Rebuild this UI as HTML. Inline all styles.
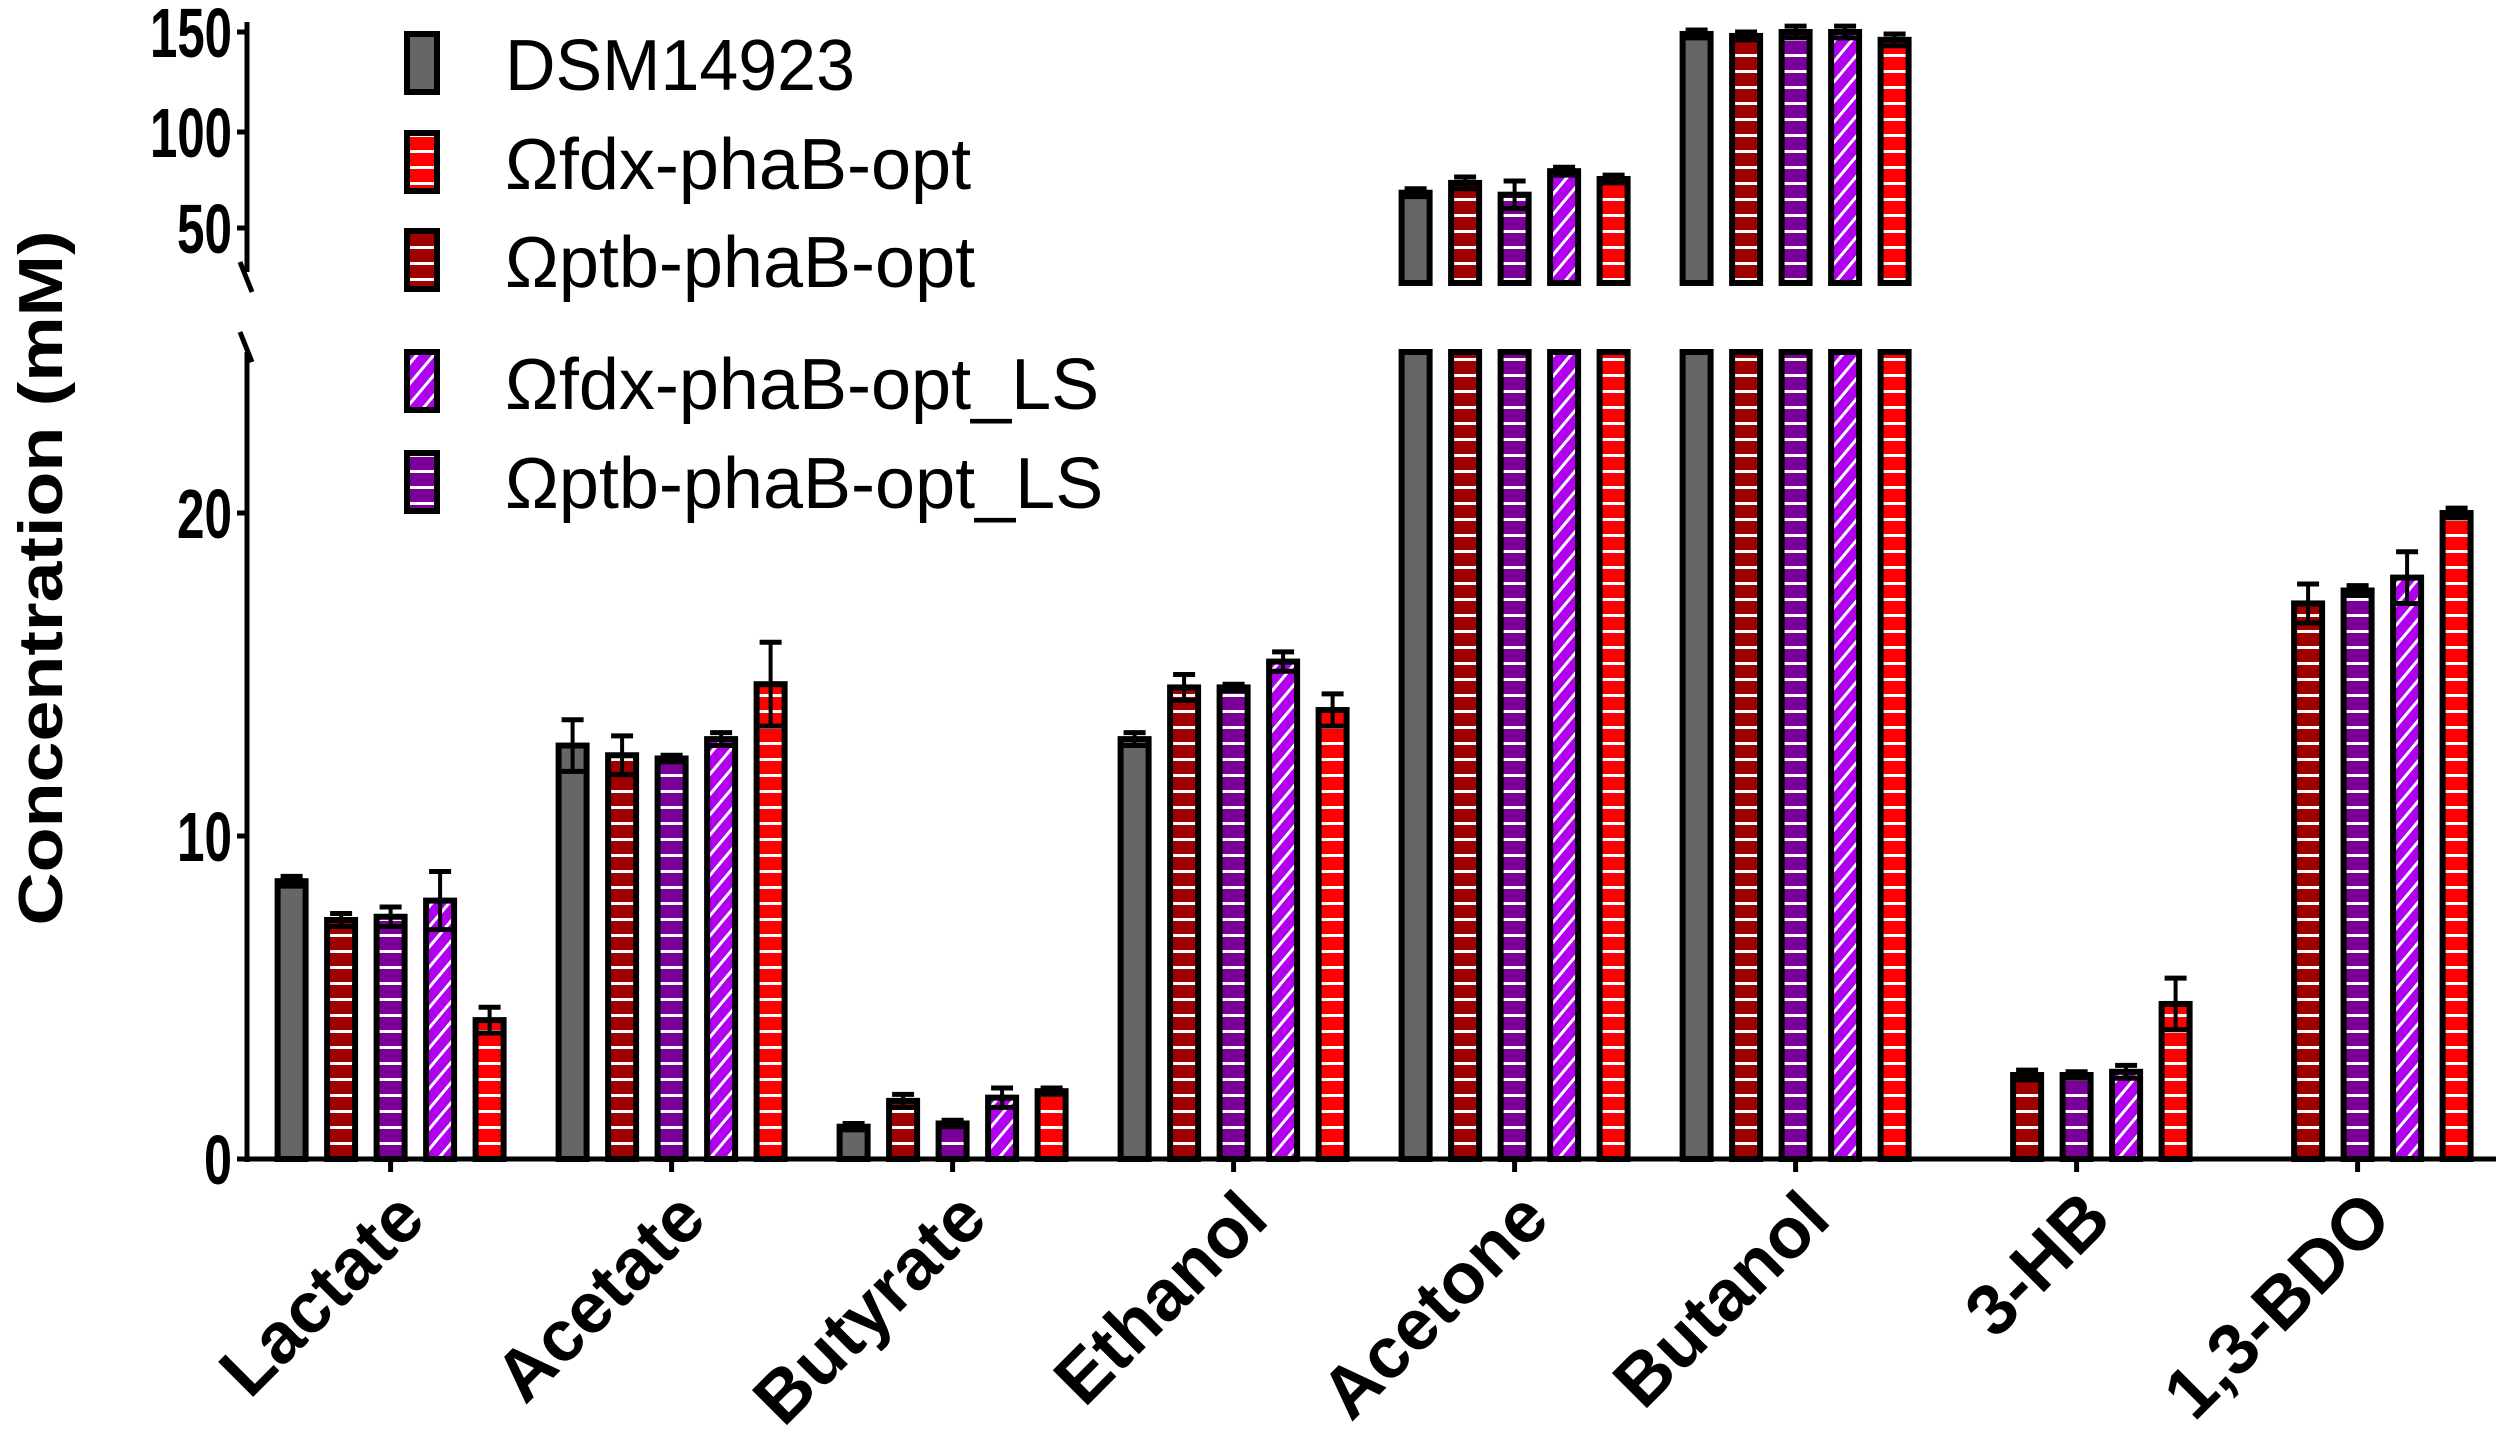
<!DOCTYPE html>
<html><head><meta charset="utf-8"><style>
html,body{margin:0;padding:0;background:#fff;}
svg{display:block;}
text{font-family:"Liberation Sans",sans-serif;}
</style></head><body>
<svg id="s" width="2500" height="1440" viewBox="0 0 2500 1440" xmlns="http://www.w3.org/2000/svg">
<defs>
<pattern id="pdr" width="40" height="16" patternUnits="userSpaceOnUse"><rect width="40" height="16" fill="#a00000"/><rect y="6" width="40" height="3" fill="#fff"/></pattern>
<pattern id="pp" width="40" height="16" patternUnits="userSpaceOnUse"><rect width="40" height="16" fill="#7a0099"/><rect y="6" width="40" height="3" fill="#fff"/></pattern>
<pattern id="pr" width="40" height="16" patternUnits="userSpaceOnUse"><rect width="40" height="16" fill="#ff0000"/><rect y="6" width="40" height="3" fill="#fff"/></pattern>
<pattern id="ph" width="13" height="13" patternUnits="userSpaceOnUse" patternTransform="rotate(40)"><rect width="13" height="13" fill="#b000ee"/><rect x="0" width="3" height="13" fill="#fff"/></pattern>
</defs>
<g id="bars"></g>
<g stroke="#000" stroke-width="5" fill="none">
<line x1="247" y1="22" x2="247" y2="272"/>
<line x1="247" y1="352" x2="247" y2="1162"/>
<line x1="244" y1="1159" x2="2496" y2="1159"/>
<line x1="237" y1="32" x2="247" y2="32"/>
<line x1="237" y1="132" x2="247" y2="132"/>
<line x1="237" y1="228" x2="247" y2="228"/>
<line x1="237" y1="513" x2="247" y2="513"/>
<line x1="237" y1="836" x2="247" y2="836"/>
<line x1="237" y1="1159" x2="247" y2="1159"/>
<line x1="240" y1="262" x2="252" y2="292"/>
<line x1="240" y1="332" x2="252" y2="362"/>
</g>
<g font-weight="bold" font-size="70" text-anchor="end">
<text x="232" y="57" textLength="82" lengthAdjust="spacingAndGlyphs">150</text>
<text x="232" y="157" textLength="82" lengthAdjust="spacingAndGlyphs">100</text>
<text x="232" y="253" textLength="55" lengthAdjust="spacingAndGlyphs">50</text>
<text x="232" y="538" textLength="55" lengthAdjust="spacingAndGlyphs">20</text>
<text x="232" y="861" textLength="55" lengthAdjust="spacingAndGlyphs">10</text>
<text x="232" y="1184" textLength="28" lengthAdjust="spacingAndGlyphs">0</text>
</g>
<text transform="translate(62,578) rotate(-90)" text-anchor="middle" font-weight="bold" font-size="62" textLength="695" lengthAdjust="spacingAndGlyphs">Concentration (mM)</text>
<g stroke="#000" stroke-width="6">
<rect x="407" y="34" width="30" height="58" fill="#666"/>
<rect x="407" y="133" width="30" height="58" fill="url(#pr)"/>
<rect x="407" y="231" width="30" height="58" fill="url(#pdr)"/>
<rect x="407" y="352" width="30" height="58" fill="url(#ph)"/>
<rect x="407" y="453" width="30" height="58" fill="url(#pp)"/>
</g>
<g font-size="72">
<text x="505" y="90" textLength="350" lengthAdjust="spacingAndGlyphs">DSM14923</text>
<text x="505" y="189">Ωfdx-phaB-opt</text>
<text x="505" y="287">Ωptb-phaB-opt</text>
<text x="505" y="409">Ωfdx-phaB-opt_LS</text>
<text x="505" y="508">Ωptb-phaB-opt_LS</text>
</g>
<g font-weight="bold" font-size="72" text-anchor="end">
<text transform="translate(428,1222) rotate(-45)">Lactate</text>
<text transform="translate(709,1222) rotate(-45)">Acetate</text>
<text transform="translate(990,1222) rotate(-45)">Butyrate</text>
<text transform="translate(1271,1222) rotate(-45)">Ethanol</text>
<text transform="translate(1552,1222) rotate(-45)">Acetone</text>
<text transform="translate(1833,1222) rotate(-45)">Butanol</text>
<text transform="translate(2114,1222) rotate(-45)">3-HB</text>
<text transform="translate(2395,1222) rotate(-45)">1,3-BDO</text>
</g>
<g id="ticks" stroke="#000" stroke-width="5"></g>
</svg>
<script>
const NS="http://www.w3.org/2000/svg";
const fills=["#666","url(#pdr)","url(#pp)","url(#ph)","url(#pr)"];
const data=[
[[8.6,.15],[7.4,.2],[7.5,.3],[8.0,.9],[4.3,.4]],
[[12.8,.8],[12.5,.6],[12.4,.1],[13.0,.2],[14.7,1.3]],
[[1.0,.1],[1.8,.2],[1.1,.1],[1.9,.3],[2.1,.1]],
[[13.0,.2],[14.6,.4],[14.6,.1],[15.4,.3],[13.9,.5]],
[[68,2],[73,3],[67,7],[79,2],[75,2]],
[[149,2],[148,2],[150,3],[150,3],[146,3]],
[[null],[2.6,.15],[2.6,.1],[2.7,.2],[4.8,.8]],
[[null],[17.2,.6],[17.6,.15],[18.0,.8],[20.0,.15]]];
const g=document.getElementById("bars"),tk=document.getElementById("ticks");
function el(n,a,p){const e=document.createElementNS(NS,n);for(const k in a)e.setAttribute(k,a[k]);p.appendChild(e);return e;}
const yl=v=>1159-32.3*v, yu=v=>228-(v-50)*1.96;
data.forEach((grp,gi)=>{
 const c=390.6+gi*281;
 el("line",{x1:c,y1:1159,x2:c,y2:1172},tk);
 grp.forEach((d,bi)=>{
  if(d[0]==null)return;
  const x=c+(bi-2)*49.5-14,w=28,v=d[0],e=d[1];
  const st={stroke:"#000","stroke-width":6};
  let top,ey1,ey2;
  if(v>25){
   top=yu(v);
   el("rect",Object.assign({x:x,y:top,width:w,height:283-top,fill:fills[bi]},st),g);
   el("rect",Object.assign({x:x,y:352,width:w,height:1159-352,fill:fills[bi]},st),g);
   ey1=yu(v+e);ey2=yu(v-e);
  } else {
   top=yl(v);
   el("rect",Object.assign({x:x,y:top,width:w,height:1159-top,fill:fills[bi]},st),g);
   ey1=yl(v+e);ey2=yl(v-e);
  }
  const cx=x+w/2;
  el("line",{x1:cx,y1:ey1,x2:cx,y2:ey2,stroke:"#000","stroke-width":4},g);
  el("line",{x1:cx-11,y1:ey1,x2:cx+11,y2:ey1,stroke:"#000","stroke-width":5},g);
  el("line",{x1:cx-11,y1:ey2,x2:cx+11,y2:ey2,stroke:"#000","stroke-width":5},g);
 });
});
</script>
</body></html>
